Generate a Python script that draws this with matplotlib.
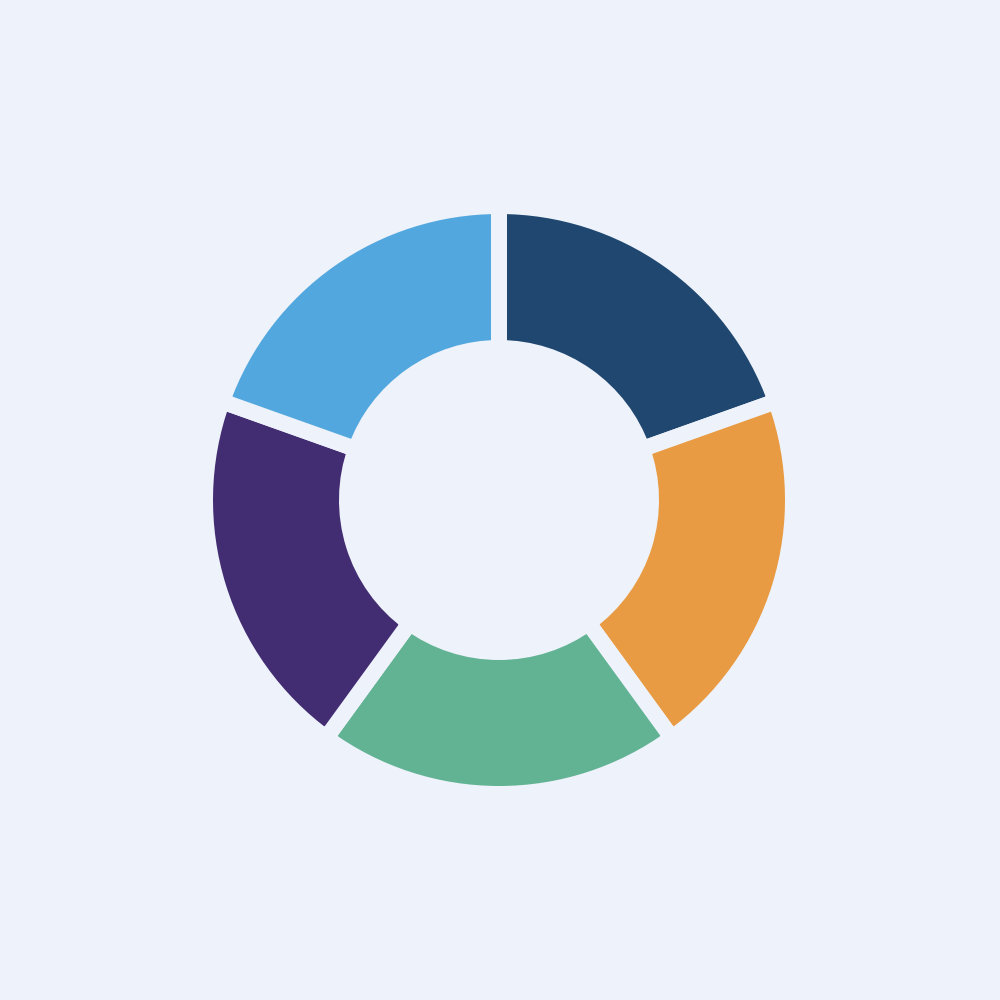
import matplotlib
matplotlib.use("Agg")
import matplotlib.pyplot as plt

categories = ["A", "B", "C", "D", "E"]
values = [22, 23, 22.5, 23, 22]
colors = ["#1f4770", "#e89b43", "#62b394", "#432d72", "#52a8de"]
bg = "#eef2fa"

fig = plt.figure(figsize=(10, 10), dpi=100, facecolor=bg)
ax = fig.add_axes([0, 0, 1, 1])
ax.set_facecolor(bg)
gap_px = 16
lw = gap_px * 72 / 100
outer = (286 + gap_px / 2) / 500
inner = (160 - gap_px / 2) / 500
ax.pie(values, colors=colors, startangle=90, counterclock=False,
       radius=outer, center=(-0.002, 0),
       wedgeprops=dict(width=outer - inner, edgecolor=bg, linewidth=lw))
ax.set_xlim(-1, 1)
ax.set_ylim(-1, 1)
ax.set_aspect("equal")
ax.axis("off")
fig.savefig("out.png", dpi=100, facecolor=bg)
